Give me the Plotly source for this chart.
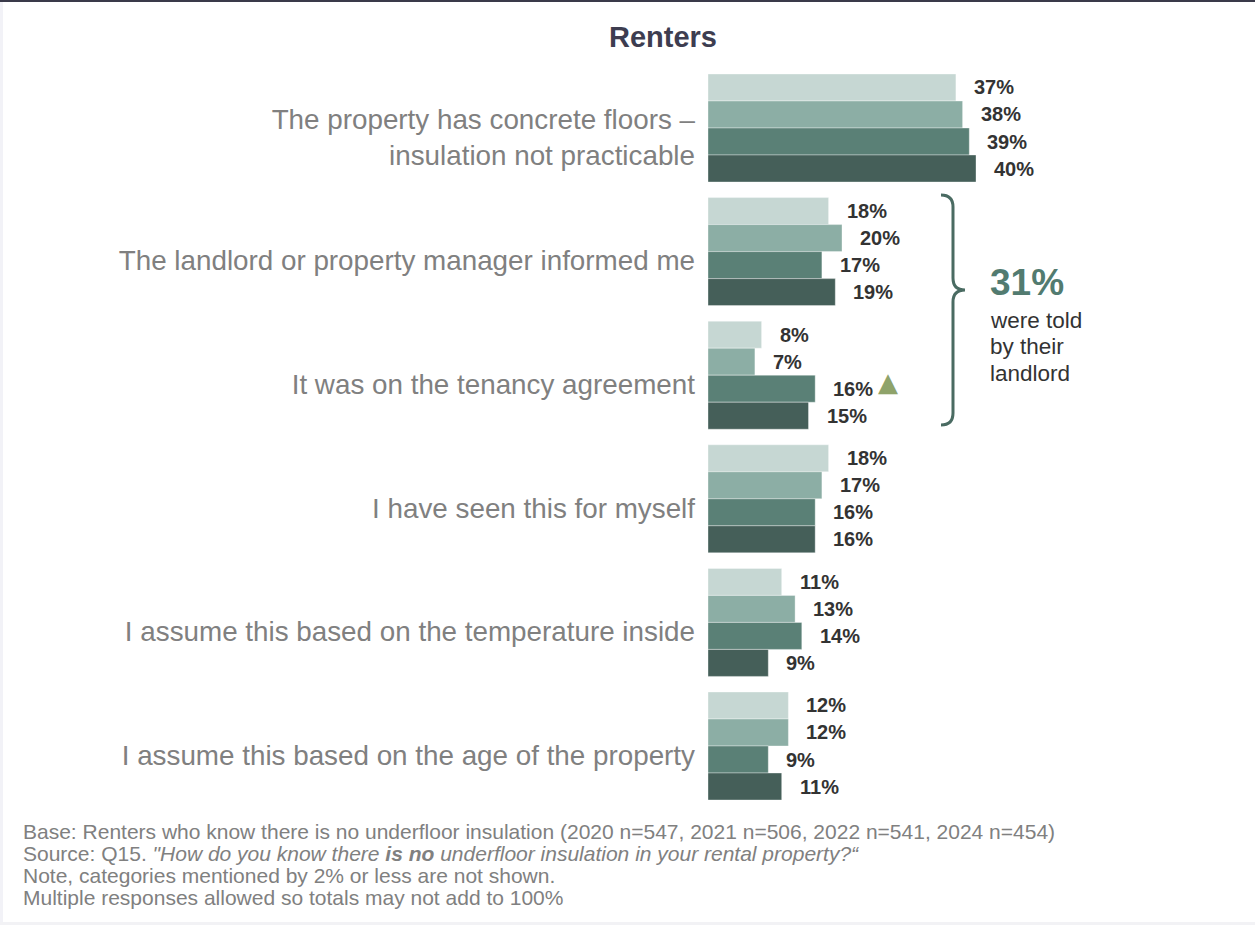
import plotly.graph_objects as go

categories = [
    "The property has concrete floors –<br>insulation not practicable",
    "The landlord or property manager informed me",
    "It was on the tenancy agreement",
    "I have seen this for myself",
    "I assume this based on the temperature inside",
    "I assume this based on the age of the property",
]
years = ["2020", "2021", "2022", "2024"]
values_2020 = [37, 18, 8, 18, 11, 12]
values_2021 = [38, 20, 7, 17, 13, 12]
values_2022 = [39, 17, 16, 16, 14, 9]
values_2024 = [40, 19, 15, 16, 9, 11]
series = [values_2020, values_2021, values_2022, values_2024]
colors = ["#c6d7d3", "#8caea5", "#5a8076", "#455f59"]

# significant increase marker: (category index, series index)
sig_up = [(2, 2)]

callout_value = "31%"
callout_lines = ["were told", "by their", "landlord"]
title = "Renters"
foot = [
    "Base: Renters who know there is no underfloor insulation (2020 n=547, 2021 n=506, 2022 n=541, 2024 n=454)",
    'Source: Q15. <i>"How do you know there <b>is no</b> underfloor insulation in your rental property?“</i>',
    "Note, categories mentioned by 2% or less are not shown.",
    "Multiple responses allowed so totals may not add to 100%",
]

FONT = "Arial, 'Liberation Sans', sans-serif"
W, H = 1255, 925
x0_px, x1_px = 708, 1255
px_per_pct = 6.7
y_top_px, y_bot_px = 66.2, 807.8
group_px = (y_bot_px - y_top_px) / len(categories)
bargap = 0.126
bar_px = group_px * (1 - bargap) / len(series)

fig = go.Figure()
for i, (yr, vals, col) in enumerate(zip(years, series, colors)):
    fig.add_trace(go.Bar(
        y=categories, x=vals, name=yr, orientation="h",
        marker=dict(color=col, line=dict(width=0.6, color="rgba(255,255,255,0.6)")),
        hoverinfo="x+name",
    ))

annotations = []
for i, vals in enumerate(series):
    yshift = (1.5 - i) * bar_px
    for c, v in zip(categories, vals):
        annotations.append(dict(
            x=v, y=c, xref="x", yref="y", text=f"<b>{v}%</b>", showarrow=False,
            xanchor="left", yanchor="middle", xshift=16, yshift=yshift,
            font=dict(family=FONT, size=20, color="#333333"),
        ))
for ci, si in sig_up:
    v = series[si][ci]
    annotations.append(dict(
        x=v, y=categories[ci], xref="x", yref="y", text="▲", showarrow=False,
        xanchor="left", yanchor="middle", xshift=61, yshift=(1.5 - si) * bar_px + 7,
        font=dict(family="DejaVu Sans", size=26, color="#8fa36a"),
    ))

# Title
annotations.append(dict(
    x=663 / W, y=1 - 37 / H, xref="paper", yref="paper", text=f"<b>{title}</b>",
    showarrow=False, xanchor="center", yanchor="middle",
    font=dict(family=FONT, size=29, color="#3d3d50"),
))
# Callout
annotations.append(dict(
    x=988 / W, y=1 - 282 / H, xref="paper", yref="paper", text=f"<b>{callout_value}</b>",
    showarrow=False, xanchor="left", yanchor="middle",
    font=dict(family=FONT, size=37, color="#527b70"),
))
for k, t in enumerate(callout_lines):
    annotations.append(dict(
        x=988 / W, y=1 - (320 + k * 26.5) / H, xref="paper", yref="paper", text=t,
        showarrow=False, xanchor="left", yanchor="middle",
        font=dict(family=FONT, size=22.5, color="#333333"),
    ))
# Footnotes
for k, t in enumerate(foot):
    annotations.append(dict(
        x=21 / W, y=1 - (831 + k * 22.3) / H, xref="paper", yref="paper", text=t,
        showarrow=False, xanchor="left", yanchor="middle",
        font=dict(family=FONT, size=21, color="#808080"),
    ))

def px(x, y):
    return f"{x / W:.5f},{1 - y / H:.5f}"

brace = (
    f"M {px(941, 195)} Q {px(953, 195)} {px(953, 207)} "
    f"L {px(953, 278)} Q {px(953, 290)} {px(965, 290)} "
    f"Q {px(953, 290)} {px(953, 302)} "
    f"L {px(953, 413)} Q {px(953, 425)} {px(941, 425)}"
)
shapes = [
    dict(type="path", path=brace, xref="paper", yref="paper",
         line=dict(color="#4a6b62", width=3)),
    dict(type="rect", x0=0, x1=1, y0=1 - 2 / H, y1=1, xref="paper", yref="paper",
         fillcolor="#3a3a4a", line=dict(width=0)),
    dict(type="rect", x0=0, x1=3 / W, y0=0, y1=1, xref="paper", yref="paper",
         fillcolor="#f2f2f7", line=dict(width=0), layer="below"),
    dict(type="rect", x0=0, x1=1, y0=0, y1=3 / H, xref="paper", yref="paper",
         fillcolor="#f2f2f5", line=dict(width=0), layer="below"),
]

fig.update_layout(
    width=W, height=H, margin=dict(l=0, r=0, t=0, b=0),
    paper_bgcolor="white", plot_bgcolor="white",
    barmode="group", bargap=bargap, bargroupgap=0,
    showlegend=False,
    xaxis=dict(domain=[x0_px / W, 1], range=[0, (x1_px - x0_px) / px_per_pct],
               visible=False),
    yaxis=dict(domain=[1 - y_bot_px / H, 1 - y_top_px / H], autorange="reversed",
               showgrid=False, zeroline=False, showline=False, ticks="",
               ticklabelstandoff=12, ticklabelshift=-9,
               tickfont=dict(family=FONT, size=27.8, color="#808080")),
    annotations=annotations, shapes=shapes,
)

fig.write_html("out.html", config={"displayModeBar": False},
               post_script="document.body.style.margin='0';")
